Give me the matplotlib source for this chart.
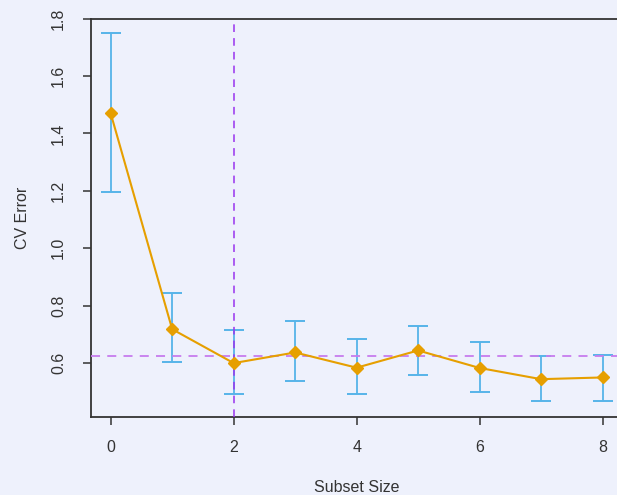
import numpy as np
import matplotlib.pyplot as plt

# cross-validated error per subset size
subset_size = [0, 1, 2, 3, 4, 5, 6, 7, 8]
cv_error = [1.470, 0.718, 0.600, 0.637, 0.584, 0.644, 0.583, 0.544, 0.550]
err_upper = [1.750, 0.843, 0.716, 0.746, 0.683, 0.730, 0.672, 0.623, 0.628]
err_lower = [1.195, 0.605, 0.493, 0.536, 0.493, 0.557, 0.501, 0.468, 0.468]

best_size = 2
threshold = 0.623

bg = "#eef1fc"
axis_col = "#333333"

fig = plt.figure(figsize=(6.17, 4.95), dpi=100, facecolor=bg)
ax = fig.add_axes([0.1475, 0.158, 0.861, 0.8046], facecolor=bg)

y = np.array(cv_error)
yerr = np.vstack([y - np.array(err_lower), np.array(err_upper) - y])

ax.errorbar(subset_size, cv_error, yerr=yerr, fmt="none", ecolor="#56b4e9",
            elinewidth=1.3, capsize=7.5, capthick=1.4, zorder=2)
ax.axvline(best_size, color="#9933ee", linestyle=(0, (5, 4)), linewidth=1.1, zorder=3)
ax.axhline(threshold, color="#c77cee", linestyle=(0, (5, 4)), linewidth=1.3, zorder=3)
ax.plot(subset_size, cv_error, color="#e69f00", linewidth=1.5, marker="D",
        markersize=6.5, zorder=4)

ax.set_xlim(-0.32, 8.32)
ax.set_ylim(0.413, 1.8)
ax.set_xticks([0, 2, 4, 6, 8])
ax.set_yticks([0.6, 0.8, 1.0, 1.2, 1.4, 1.6, 1.8])
ax.set_yticklabels(["0.6", "0.8", "1.0", "1.2", "1.4", "1.6", "1.8"],
                   rotation=90, va="center")

for side in ["left", "bottom", "top", "right"]:
    ax.spines[side].set_color(axis_col)
    ax.spines[side].set_linewidth(1.3)

ax.tick_params(axis="both", colors=axis_col, labelcolor=axis_col, length=6,
               width=1.1, labelsize=11.5)
ax.tick_params(axis="x", pad=11)
ax.tick_params(axis="y", pad=12)
ax.set_xlabel("Subset Size", fontsize=11.5, color=axis_col, labelpad=18,
              family="Liberation Sans")
ax.set_ylabel("CV Error", fontsize=11.5, color=axis_col, labelpad=15,
              family="Liberation Sans")
for lab in ax.get_xticklabels() + ax.get_yticklabels():
    lab.set_family("Liberation Sans")

fig.savefig("out.png", dpi=100, facecolor=bg)
